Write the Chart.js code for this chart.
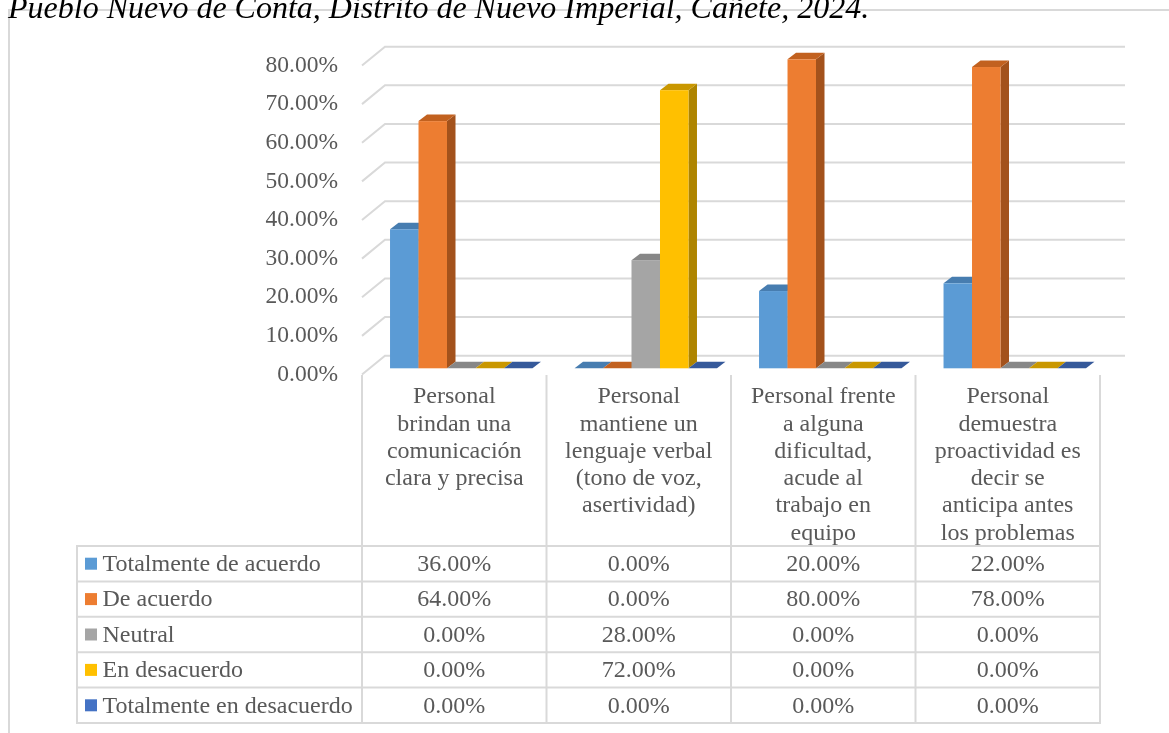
<!DOCTYPE html>
<html lang="es">
<head>
<meta charset="utf-8">
<title>Comunicación del personal</title>
<script src="https://cdn.jsdelivr.net/npm/chart.js@4.4.1/dist/chart.umd.min.js"></script>
<style>
  html, body { margin: 0; padding: 0; background: #ffffff; }
  #wrap { position: relative; width: 1169px; height: 733px; overflow: hidden; }
  canvas { display: block; }
</style>
</head>
<body>
<div id="wrap"><canvas id="chart" width="1169" height="733"></canvas></div>
<script>
// Categories (each wrapped into the lines shown in the table header)
const categories = [
  ["Personal", "brindan una", "comunicación", "clara y precisa"],
  ["Personal", "mantiene un", "lenguaje verbal", "(tono de voz,", "asertividad)"],
  ["Personal frente", "a alguna", "dificultad,", "acude al", "trabajo en", "equipo"],
  ["Personal", "demuestra", "proactividad es", "decir se", "anticipa antes", "los problemas"]
];

// Series names and values (shares of respondents)
const seriesNames = ["Totalmente de acuerdo", "De acuerdo", "Neutral", "En desacuerdo", "Totalmente en desacuerdo"];
const totalmenteDeAcuerdo   = [0.36, 0.00, 0.20, 0.22];
const deAcuerdo             = [0.64, 0.00, 0.80, 0.78];
const neutral               = [0.00, 0.28, 0.00, 0.00];
const enDesacuerdo          = [0.00, 0.72, 0.00, 0.00];
const totalmenteEnDesacuerdo = [0.00, 0.00, 0.00, 0.00];

// Value axis ticks
const yTicks = [0, 0.1, 0.2, 0.3, 0.4, 0.5, 0.6, 0.7, 0.8];

const titleText = "Pueblo Nuevo de Conta, Distrito de Nuevo Imperial, Cañete, 2024.";

// Face colours: front, top, side
const palette = [
  { front: "#5B9BD5", top: "#477DB0", side: "#3F6F9E" },
  { front: "#ED7D31", top: "#C2611F", side: "#A3521C" },
  { front: "#A5A5A5", top: "#878787", side: "#7A7A7A" },
  { front: "#FFC000", top: "#C99700", side: "#AE8400" },
  { front: "#4472C4", top: "#35599A", side: "#2E4F8A" }
];

const seriesValues = [totalmenteDeAcuerdo, deAcuerdo, neutral, enDesacuerdo, totalmenteEnDesacuerdo];

const FONT = "'Liberation Serif', 'Times New Roman', serif";
const TEXT_COLOR = "#595959";
const LINE_COLOR = "#d9d9d9";

// depth of each bar, and offsets of the floor front / back wall from the bar plane
const BAR_DEPTH = { dx: 8.5, dy: -6.5 };
const FLOOR_FRONT = { dx: -7, dy: 6.2 };
const BACK_WALL = { dx: 16, dy: -12.6 };

function fmtPct(v) { return (v * 100).toFixed(2) + "%"; }

const bars3d = {
  id: "bars3d",
  beforeDatasetsDraw(chart) {
    const ctx = chart.ctx;
    const xs = chart.scales.x, ys = chart.scales.y;
    const left = xs.left, right = xs.right;
    ctx.save();
    // back wall gridlines and side-wall diagonals
    ctx.strokeStyle = LINE_COLOR;
    ctx.lineWidth = 2;
    yTicks.forEach(v => {
      const yp = ys.getPixelForValue(v);
      const yb = yp + BACK_WALL.dy, yf = yp + FLOOR_FRONT.dy;
      const xb = left + BACK_WALL.dx, xf = left + FLOOR_FRONT.dx;
      ctx.beginPath();
      ctx.moveTo(xf, yf);
      ctx.lineTo(xb, yb);
      ctx.lineTo(right + BACK_WALL.dx + 2, yb);
      ctx.stroke();
    });
    // bars, left to right inside each category
    const n = chart.data.labels.length;
    for (let c = 0; c < n; c++) {
      chart.data.datasets.forEach((ds, di) => {
        const el = chart.getDatasetMeta(di).data[c];
        const col = palette[di];
        const x0 = el.x - el.width / 2, x1 = el.x + el.width / 2;
        const yt = el.y, yb = el.base;
        const dx = BAR_DEPTH.dx, dy = BAR_DEPTH.dy;
        // side face
        ctx.fillStyle = col.side;
        ctx.beginPath();
        ctx.moveTo(x1, yt); ctx.lineTo(x1 + dx, yt + dy);
        ctx.lineTo(x1 + dx, yb + dy); ctx.lineTo(x1, yb);
        ctx.closePath(); ctx.fill();
        // top face
        ctx.fillStyle = col.top;
        ctx.beginPath();
        ctx.moveTo(x0, yt); ctx.lineTo(x1, yt);
        ctx.lineTo(x1 + dx, yt + dy); ctx.lineTo(x0 + dx, yt + dy);
        ctx.closePath(); ctx.fill();
        // front face
        if (yb - yt > 0.5) {
          ctx.fillStyle = col.front;
          ctx.fillRect(x0, yt, x1 - x0, yb - yt);
        }
      });
    }
    ctx.restore();
    return false;
  },
  afterDraw(chart) {
    const ctx = chart.ctx;
    const xs = chart.scales.x, ys = chart.scales.y;
    const n = chart.data.labels.length;
    const catW = (xs.right - xs.left) / n;
    const colX = i => xs.left + FLOOR_FRONT.dx + i * catW;
    ctx.save();

    // outer frame
    ctx.strokeStyle = LINE_COLOR;
    ctx.lineWidth = 2;
    ctx.strokeRect(9, 10, 1300, 900);

    // title
    ctx.fillStyle = "#000000";
    ctx.font = "italic 32px " + FONT;
    ctx.textAlign = "left";
    ctx.textBaseline = "alphabetic";
    ctx.fillText(titleText, 8, 18);

    // value axis labels on the front edge of the floor
    ctx.fillStyle = TEXT_COLOR;
    ctx.font = "23.5px " + FONT;
    ctx.textAlign = "right";
    ctx.textBaseline = "middle";
    yTicks.forEach(v => {
      ctx.fillText(fmtPct(v), 338, ys.getPixelForValue(v) + FLOOR_FRONT.dy);
    });

    // data table
    const tableLeft = 77;
    const headerTop = 375;
    const rowTop = 546, rowH = 35.4;
    const rows = seriesNames.length;
    const tableBottom = rowTop + rows * rowH;
    ctx.strokeStyle = LINE_COLOR;
    ctx.lineWidth = 2;
    ctx.beginPath();
    for (let i = 0; i <= n; i++) {
      ctx.moveTo(colX(i), headerTop);
      ctx.lineTo(colX(i), tableBottom);
    }
    ctx.moveTo(tableLeft, rowTop);
    ctx.lineTo(tableLeft, tableBottom);
    for (let r = 0; r <= rows; r++) {
      const y = rowTop + r * rowH;
      ctx.moveTo(tableLeft - 1, y);
      ctx.lineTo(colX(n) + 1, y);
    }
    ctx.stroke();

    // category header text
    ctx.font = "24px " + FONT;
    ctx.fillStyle = TEXT_COLOR;
    ctx.textAlign = "center";
    ctx.textBaseline = "middle";
    categories.forEach((lines, i) => {
      const cx = colX(i) + catW / 2;
      lines.forEach((t, k) => ctx.fillText(t, cx, 397 + k * 27.3));
    });

    // rows: legend key, series name, values
    seriesNames.forEach((name, r) => {
      const cy = rowTop + r * rowH + rowH / 2;
      ctx.fillStyle = palette[r].front;
      ctx.fillRect(85, cy - 6, 12, 12);
      ctx.fillStyle = TEXT_COLOR;
      ctx.textAlign = "left";
      ctx.fillText(name, 102.5, cy + 1);
      ctx.textAlign = "center";
      seriesValues[r].forEach((v, i) => {
        ctx.fillText(fmtPct(v), colX(i) + catW / 2, cy + 1);
      });
    });
    ctx.restore();
  }
};

new Chart(document.getElementById("chart"), {
  type: "bar",
  data: {
    labels: categories,
    datasets: seriesNames.map((name, i) => ({
      label: name,
      data: seriesValues[i],
      backgroundColor: palette[i].front,
      borderWidth: 0,
      categoryPercentage: 0.772,
      barPercentage: 1
    }))
  },
  options: {
    responsive: false,
    devicePixelRatio: 1,
    animation: false,
    layout: { padding: { left: 369, right: 62, top: 59.3, bottom: 364.7 } },
    plugins: { legend: { display: false }, tooltip: { enabled: false }, title: { display: false } },
    scales: {
      x: { display: false },
      y: { display: false, min: 0, max: 0.8, ticks: { stepSize: 0.1 } }
    }
  },
  plugins: [bars3d]
});
</script>
</body>
</html>
